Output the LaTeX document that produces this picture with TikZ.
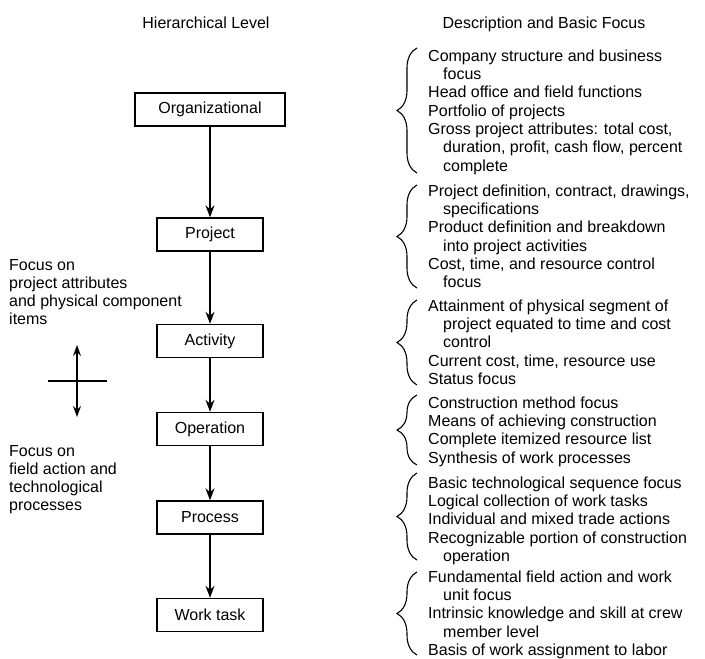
\documentclass[tikz,border=0pt]{standalone}
\usepackage{fontspec}
\setmainfont{Liberation Sans}
\usetikzlibrary{arrows.meta,decorations.pathreplacing}
\begin{document}
\begin{tikzpicture}[x=1pt,y=-1pt,
  every node/.style={font=\fontsize{16}{18.3}\selectfont, inner sep=0pt},
  lvbox/.style={draw, line width=1.4pt, minimum height=33pt, minimum width=106pt},
  flow/.style={-{Stealth[length=12pt,width=9pt,inset=4pt]}, line width=1.2pt},
  twoway/.style={{Stealth[length=11pt,width=8pt,inset=4pt]}-{Stealth[length=11pt,width=8pt,inset=4pt]}, line width=1.2pt},
  desc/.style={anchor=north west, align=left},
  bracket/.style={decorate, decoration={brace, amplitude=20pt}, line width=1.1pt},
  side/.style={anchor=north west, align=left, font=\fontsize{16}{18}\selectfont}]
\useasboundingbox (0,0) rectangle (705,659);

% column headings
\node[anchor=base] (hdrL) at (206,28) {Hierarchical Level};
\node[anchor=base] (hdrR) at (544,28) {Description and Basic Focus};

% hierarchy of levels
\node[lvbox, minimum width=150pt] (org) at (210,109.5) {Organizational};
\node[lvbox] (proj) at (210,234.5) {Project};
\node[lvbox] (act)  at (210,341)   {Activity};
\node[lvbox] (oper) at (210,429)   {Operation};
\node[lvbox] (proc) at (210,517.5) {Process};
\node[lvbox] (task) at (210,615)   {Work task};

\draw[flow] (org)  -- (proj);
\draw[flow] (proj) -- (act);
\draw[flow] (act)  -- (oper);
\draw[flow] (oper) -- (proc);
\draw[flow] (proc) -- (task);

% focus indicator on the left
\node[side] (focusUp) at (9,257.2) {\strut Focus on\\project attributes\\and physical component\\items};
\node[side] (focusDn) at (9,443.2) {\strut Focus on\\field action and\\technological\\processes};
\coordinate (crossTop) at (77,345);
\coordinate (crossBot) at (77,417);
\coordinate (crossL) at (48,381);
\coordinate (crossR) at (107,381);
\draw[twoway] (crossBot) -- (crossTop);
\draw[line width=1.2pt] (crossL) -- (crossR);

% braces
\coordinate (b1t) at (417,48);  \coordinate (b1b) at (417,173);
\coordinate (b2t) at (417,185); \coordinate (b2b) at (417,288);
\coordinate (b3t) at (417,300); \coordinate (b3b) at (417,385);
\coordinate (b4t) at (417,395); \coordinate (b4b) at (417,465);
\coordinate (b5t) at (417,473); \coordinate (b5b) at (417,560);
\coordinate (b6t) at (417,572); \coordinate (b6b) at (417,655);
\draw[bracket] (b1b) -- (b1t);
\draw[bracket] (b2b) -- (b2t);
\draw[bracket] (b3b) -- (b3t);
\draw[bracket] (b4b) -- (b4t);
\draw[bracket] (b5b) -- (b5t);
\draw[bracket] (b6b) -- (b6t);

% descriptions
\node[desc] (d1) at (428,48.2) {\strut Company structure and business\\
  \hspace*{15pt}focus\\
  Head office and field functions\\
  Portfolio of projects\\
  Gross project attributes: total cost,\\
  \hspace*{15pt}duration, profit, cash flow, percent\\
  \hspace*{15pt}complete};
\node[desc] (d2) at (428,183.2) {\strut Project definition, contract, drawings,\\
  \hspace*{15pt}specifications\\
  Product definition and breakdown\\
  \hspace*{15pt}into project activities\\
  Cost, time, and resource control\\
  \hspace*{15pt}focus};
\node[desc] (d3) at (428,298.2) {\strut Attainment of physical segment of\\
  \hspace*{15pt}project equated to time and cost\\
  \hspace*{15pt}control\\
  Current cost, time, resource use\\
  Status focus};
\node[desc] (d4) at (428,395.2) {\strut Construction method focus\\
  Means of achieving construction\\
  Complete itemized resource list\\
  Synthesis of work processes};
\node[desc] (d5) at (428,475.2) {\strut Basic technological sequence focus\\
  Logical collection of work tasks\\
  Individual and mixed trade actions\\
  Recognizable portion of construction\\
  \hspace*{15pt}operation};
\node[desc] (d6) at (428,569.2) {\strut Fundamental field action and work\\
  \hspace*{15pt}unit focus\\
  Intrinsic knowledge and skill at crew\\
  \hspace*{15pt}member level\\
  Basis of work assignment to labor};
\end{tikzpicture}
\end{document}
